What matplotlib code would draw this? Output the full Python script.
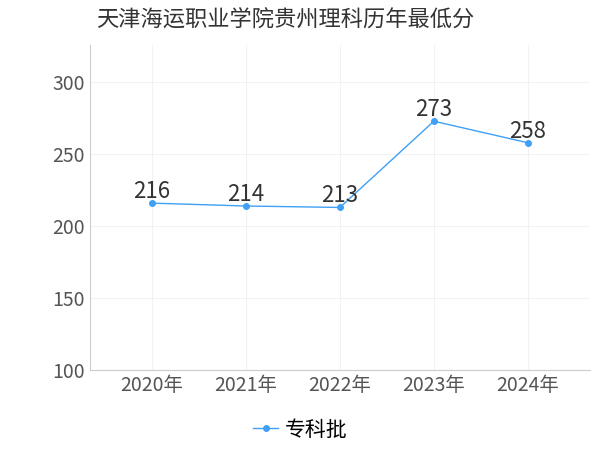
import matplotlib.pyplot as plt

plt.rcParams['font.family'] = ['Noto Sans CJK SC', 'DejaVu Sans']

years = ['2020年', '2021年', '2022年', '2023年', '2024年']
scores = [216, 214, 213, 273, 258]
color = '#3fa0f5'

fig = plt.figure(figsize=(6, 4.5), dpi=100)
ax = fig.add_axes([0.15, 0.178, 0.833, 0.722])
x = list(range(len(years)))
ax.plot(x, scores, color=color, linewidth=1, marker='o', markersize=4, label='专科批')
for xi, v in zip(x, scores):
    ax.text(xi, v, str(v), ha='center', va='bottom', fontsize=16, color='#333333')

ax.set_xlim(-0.66, 4.66)
ax.set_ylim(100, 326)
ax.set_yticks([100, 150, 200, 250, 300])
ax.set_xticks(x)
ax.set_xticklabels(years)
ax.tick_params(labelsize=14, colors='#555555', length=0)
ax.grid(True, color='#f2f2f2', linewidth=0.8)
for s in ['top', 'right']:
    ax.spines[s].set_visible(False)
for s in ['left', 'bottom']:
    ax.spines[s].set_color('#cccccc')

fig.text(0.16, 0.955, '天津海运职业学院贵州理科历年最低分', fontsize=16, color='#333333', va='center')
fig.legend(loc='center', bbox_to_anchor=(0.5, 0.045), frameon=False, fontsize=15,
           handlelength=1.2, handletextpad=0.3)
fig.savefig('out.png')
